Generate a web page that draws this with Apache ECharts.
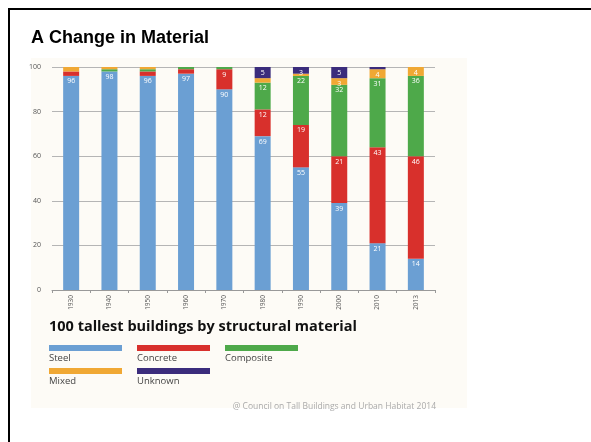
<!DOCTYPE html>
<html><head><meta charset="utf-8">
<script src="https://cdn.jsdelivr.net/npm/echarts@6/dist/echarts.min.js"></script>
<style>html,body{margin:0;padding:0;background:#fff}#c{width:591px;height:442px}</style>
</head><body><div id="c"></div>
<script>
const categories = ['1930','1940','1950','1960','1970','1980','1990','2000','2010','2013'];
const steel     = [96, 98, 96, 97, 90, 69, 55, 39, 21, 14];
const concrete  = [2, 0, 2, 2, 9, 12, 19, 21, 43, 46];
const composite = [0, 1, 1, 1, 1, 12, 22, 32, 31, 36];
const mixed     = [2, 1, 1, 0, 0, 2, 1, 3, 4, 4];
const unknown   = [0, 0, 0, 0, 0, 5, 3, 5, 1, 0];
const yTicks = [0, 20, 40, 60, 80, 100];
const seriesNames = ['Steel', 'Concrete', 'Composite', 'Mixed', 'Unknown'];
const seriesData = [steel, concrete, composite, mixed, unknown];
const colors = ['#6b9fd3', '#d8302c', '#4ea94a', '#f0a834', '#3b2c7c'];

const chart = echarts.init(document.getElementById('c'));

const legendPos = [[49,345],[137,345],[225,345],[49,368],[137,368]];
const graphics = [
  {type:'rect', shape:{x:31,y:58,width:436,height:350}, style:{fill:'#fdfbf6'}, z:-10},
  {type:'rect', shape:{x:9,y:9,width:600,height:460}, style:{fill:'none', stroke:'#000', lineWidth:2}, z:10},
  {type:'text', x:49, y:327, style:{text:'100 tallest buildings by structural material', font:'bold 14.5px "Open Sans", sans-serif', fill:'#111', textVerticalAlign:'middle'}},
  {type:'text', x:436, y:407, style:{text:'@ Council on Tall Buildings and Urban Habitat 2014', font:'8.5px "Open Sans", sans-serif', fill:'#aaa', textAlign:'right', textVerticalAlign:'middle'}}
];
seriesNames.forEach((n,i)=>{
  const p = legendPos[i];
  graphics.push({type:'rect', shape:{x:p[0],y:p[1],width:73,height:6}, style:{fill:colors[i]}});
  graphics.push({type:'text', x:p[0], y:p[1]+13, style:{text:n, font:'9.5px "Open Sans", sans-serif', fill:'#444', textVerticalAlign:'middle'}});
});

chart.setOption({
  animation:false,
  backgroundColor:'#fff',
  title:{text:'A Change in Material', left:26, top:24, textStyle:{fontFamily:'Liberation Sans, Arial', fontWeight:'bold', fontSize:18, color:'#000'}},
  grid:{left:52, right:156, top:67, bottom:152, containLabel:false},
  xAxis:{type:'category', data:categories,
    axisLine:{lineStyle:{color:'#999'}},
    axisTick:{show:true, alignWithLabel:false, length:3, lineStyle:{color:'#999'}},
    axisLabel:{rotate:90, fontSize:6.5, color:'#555', margin:5, fontFamily:'Open Sans'}},
  yAxis:{type:'value', min:0, max:100, interval:20,
    axisLine:{show:false}, axisTick:{show:false},
    splitLine:{lineStyle:{color:'#b5b5b5', width:1}},
    axisLabel:{fontSize:7, color:'#555', margin:11, fontFamily:'Open Sans',
      formatter:v=>yTicks.includes(v)?String(v):''}},
  series: seriesNames.map((n,i)=>({
    name:n, type:'bar', stack:'total', barWidth:16,
    data:seriesData[i],
    itemStyle:{color:colors[i]},
    label:{show:true, position:'insideTop', distance:2, fontSize:7, color:'#fff', fontFamily:'Open Sans',
      formatter:p=>p.value>=3?String(p.value):''}
  })),
  graphic:graphics
});
</script></body></html>
